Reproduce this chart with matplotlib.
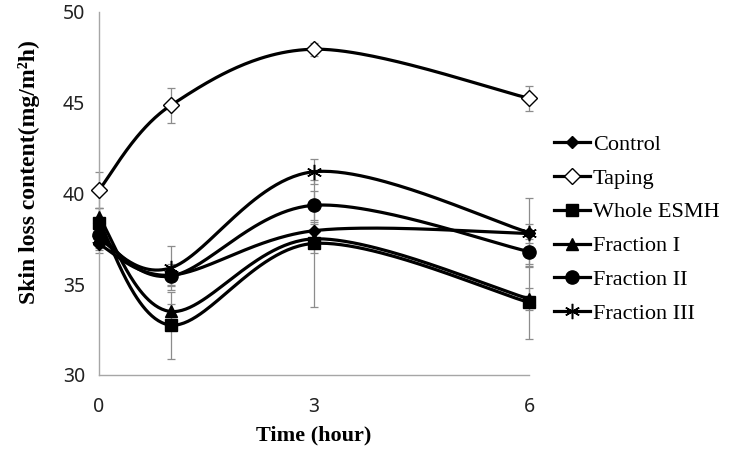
import numpy as np
import matplotlib.pyplot as plt
from matplotlib.lines import Line2D

hours = [0, 1, 3, 6]
groups = ['Control', 'Taping', 'Whole ESMH', 'Fraction I', 'Fraction II', 'Fraction III']

control = [37.2, 35.5, 37.95, 37.8]
taping = [40.2, 44.85, 47.95, 45.25]
whole_esmh = [38.4, 32.75, 37.25, 34.0]
fraction_1 = [38.7, 33.5, 37.5, 34.2]
fraction_2 = [37.7, 35.45, 39.35, 36.8]
fraction_3 = [37.5, 35.9, 41.2, 37.85]

control_err = [0.5, 0.6, 0.5, 0.5]
taping_err = [1.0, 0.95, 0.35, 0.7]
whole_esmh_err = [0.8, 1.85, 3.5, 2.0]
fraction_1_err = [0.5, 0.4, 0.8, 0.6]
fraction_2_err = [0.7, 0.5, 0.8, 0.7]
fraction_3_err = [0.6, 1.2, 0.7, 1.9]

series = [control, taping, whole_esmh, fraction_1, fraction_2, fraction_3]
errors = [control_err, taping_err, whole_esmh_err, fraction_1_err, fraction_2_err, fraction_3_err]
markers = ['D', 'D', 's', '^', 'o', (6, 2, 0)]
msizes = [6.5, 8.5, 8.5, 9, 9.5, 11]
faces = ['black', 'white', 'black', 'black', 'black', 'black']
mews = [1, 1, 1, 1, 1, 1.1]


def smooth(x, y, n=60, t=0.5):
    # excel-like smoothed line (cardinal spline through the points)
    x = np.asarray(x, float)
    y = np.asarray(y, float)
    px = np.concatenate([[x[0]], x, [x[-1]]])
    py = np.concatenate([[y[0]], y, [y[-1]]])
    xs, ys = [], []
    for i in range(1, len(px) - 2):
        s = np.linspace(0, 1, n)
        m0x = t * (px[i + 1] - px[i - 1])
        m1x = t * (px[i + 2] - px[i])
        m0y = t * (py[i + 1] - py[i - 1])
        m1y = t * (py[i + 2] - py[i])
        h00 = 2 * s**3 - 3 * s**2 + 1
        h10 = s**3 - 2 * s**2 + s
        h01 = -2 * s**3 + 3 * s**2
        h11 = s**3 - s**2
        xs.append(h00 * px[i] + h10 * m0x + h01 * px[i + 1] + h11 * m1x)
        ys.append(h00 * py[i] + h10 * m0y + h01 * py[i + 1] + h11 * m1y)
    return np.concatenate(xs), np.concatenate(ys)


fig = plt.figure(figsize=(7.44, 4.59), dpi=100)
ax = fig.add_axes([99 / 744, 1 - 375 / 459, 430 / 744, 363 / 459])

for vals, err in zip(series, errors):
    eb = ax.errorbar(hours, vals, yerr=err, fmt='none', ecolor='#8c8c8c',
                     elinewidth=0.9, capsize=3, capthick=0.9, zorder=1)
    for art in eb.lines[1] + eb.lines[2]:
        art.set_clip_on(False)

handles = []
for vals, name, m, ms, fc, mw in zip(series, groups, markers, msizes, faces, mews):
    sx, sy = smooth(hours, vals)
    ax.plot(sx, sy, color='black', lw=2.3, zorder=2, solid_capstyle='round', clip_on=False)
    ax.plot(hours, vals, ls='none', marker=m, ms=ms, mfc=fc, mec='black',
            mew=mw, zorder=3, clip_on=False)
    handles.append(Line2D([], [], color='black', lw=2.3, marker=m, ms=ms,
                          mfc=fc, mec='black', mew=mw, label=name))

ax.set_xlim(0, 6)
ax.set_ylim(30, 50)
ax.set_xticks([0, 3, 6])
ax.set_yticks([30, 35, 40, 45, 50])
ax.tick_params(length=0, labelsize=14, labelcolor='#222222')
for lab in ax.get_xticklabels() + ax.get_yticklabels():
    lab.set_family('Noto Sans')
ax.tick_params(axis='y', pad=10)
ax.tick_params(axis='x', pad=16)
for s in ['top', 'right']:
    ax.spines[s].set_visible(False)
for s in ['left', 'bottom']:
    ax.spines[s].set_color('#a6a6a6')
    ax.spines[s].set_linewidth(1)

ax.set_xlabel('Time (hour)', family='Liberation Serif', weight='bold', fontsize=16)
ax.xaxis.set_label_coords(0.5, -0.14)
ax.set_ylabel('Skin loss content(mg/m²h)', family='Liberation Serif', weight='bold',
              fontsize=17)
ax.yaxis.set_label_coords(-0.138, 0.56)

fig.legend(handles=handles, loc='upper left', bbox_to_anchor=(543 / 744, 1 - 123 / 459),
           frameon=False, prop={'family': 'Liberation Serif', 'size': 16},
           handlelength=1.6, handletextpad=0.15, labelspacing=0.6, borderpad=0)

fig.savefig('out.png', dpi=100)
